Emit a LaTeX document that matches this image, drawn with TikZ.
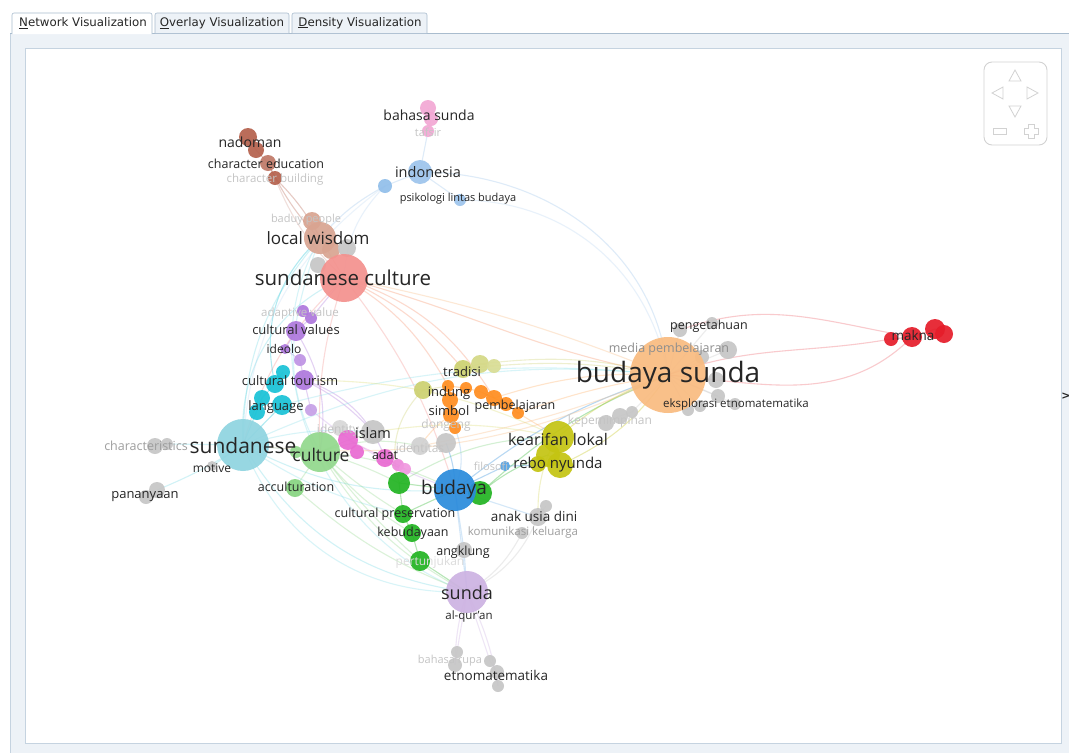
\documentclass[tikz,border=0pt]{standalone}
\usepackage{fontspec}
\setmainfont{Open Sans}
\newfontfamily\tabfont{DejaVu Sans}
\pgfdeclarelayer{back}
\pgfdeclarelayer{edges}
\pgfsetlayers{back,edges,main}
\definecolor{panelbg}{HTML}{EDF2F7}
\definecolor{panelln}{HTML}{C5D3E0}
\definecolor{tabln}{HTML}{A9BCCE}
\definecolor{txt}{HTML}{262626}
\definecolor{faded}{HTML}{C4C4C4}
\definecolor{midg}{HTML}{8E8E8E}
\definecolor{brownc}{HTML}{B5614D}
\definecolor{locwc}{HTML}{D9A491}
\definecolor{sundcc}{HTML}{F4918E}
\definecolor{pinkc}{HTML}{F3A8D4}
\definecolor{lbluec}{HTML}{9DC4EC}
\definecolor{purplec}{HTML}{AE78DD}
\definecolor{cyanc}{HTML}{18C2D6}
\definecolor{sundlc}{HTML}{8FD4E0}
\definecolor{lgreenc}{HTML}{92D88C}
\definecolor{greenc}{HTML}{22B422}
\definecolor{magc}{HTML}{E96AD2}
\definecolor{olivc}{HTML}{CDD170}
\definecolor{orangec}{HTML}{FF8D1F}
\definecolor{yellc}{HTML}{C4C412}
\definecolor{bluec}{HTML}{2A8BDC}
\definecolor{lpurc}{HTML}{CDB2E2}
\definecolor{bsc}{HTML}{F9BB80}
\definecolor{redc}{HTML}{E51D2A}
\definecolor{grayc}{HTML}{C6C6C6}
\definecolor{navc}{HTML}{D2D2D2}
\tikzset{
  nd/.style={circle, inner sep=0pt, draw=none, fill opacity=0.92},
  lb/.style={inner sep=0pt, text=txt},
  fl/.style={inner sep=0pt, text=faded},
  fs/.style={font=\fontsize{#1}{#1}\selectfont},
  ed/.style={draw=#1, draw opacity=0.33, line width=1.1pt},
  tabbox/.style={draw=tabln, fill=#1, rounded corners=2pt, line width=0.6pt},
}
\begin{document}
\begin{tikzpicture}[x=1pt,y=-1pt]
\useasboundingbox (0,0) rectangle (1069,753);
% ---------- window ----------
\begin{pgfonlayer}{back}
\fill[white] (0,0) rectangle (1069,753);
\fill[panelbg] (10,33) rectangle (1069,753);
\draw[panelln, line width=0.8pt] (10,33) -- (10,753);
\draw[tabln, line width=0.8pt] (10,33) -- (1069,33);
\fill[white] (25,48) rectangle (1061,743);
\draw[panelln, line width=0.8pt] (25,48) rectangle (1061,743);
\end{pgfonlayer}
\draw[tabbox=white] (12,34) -- (12,13) -- (152,13) -- (152,34);
\draw[tabbox=panelbg] (155,33) -- (155,13) -- (289,13) -- (289,33);
\draw[tabbox=panelbg] (292,33) -- (292,13) -- (427,13) -- (427,33);
\node[inner sep=0pt, text=txt, font=\tabfont\fontsize{11.8}{12}\selectfont] (tab1) at (83,23) {\underline{N}etwork Visualization};
\node[inner sep=0pt, text=txt, font=\tabfont\fontsize{11.8}{12}\selectfont] (tab2) at (222,23) {\underline{O}verlay Visualization};
\node[inner sep=0pt, text=txt, font=\tabfont\fontsize{11.8}{12}\selectfont] (tab3) at (360,23) {\underline{D}ensity Visualization};
\node[inner sep=0pt, text=txt, font=\tabfont\bfseries\fontsize{11}{11}\selectfont] (more) at (1066,396) {>};
% navigation widget
\draw[navc, line width=0.9pt, rounded corners=8pt] (984,62) rectangle (1047,145);
\draw[navc, line width=0.8pt] (1009,81) -- (1015,70) -- (1021,81) -- cycle;
\draw[navc, line width=0.8pt] (1003,87) -- (992,93) -- (1003,99) -- cycle;
\draw[navc, line width=0.8pt] (1027,87) -- (1038,93) -- (1027,99) -- cycle;
\draw[navc, line width=0.8pt] (1009,106) -- (1015,117) -- (1021,106) -- cycle;
\draw[navc, line width=0.8pt] (993,128) rectangle (1006,134);
\draw[navc, line width=0.8pt] (1028,124) -- (1034,124) -- (1034,128) -- (1038,128) -- (1038,134) -- (1034,134) -- (1034,138) -- (1028,138) -- (1028,134) -- (1024,134) -- (1024,128) -- (1028,128) -- cycle;
% ---------- nodes ----------
% brown cluster
\node[nd, fill=brownc, minimum size=18pt] (nad1) at (248,137) {};
\node[nd, fill=brownc, minimum size=16pt] (nad2) at (256,150) {};
\node[nd, fill=brownc!85!white, minimum size=16pt] (chared) at (268,163) {};
\node[nd, fill=brownc, minimum size=14pt] (charbld) at (275,178) {};
% local wisdom
\node[nd, fill=locwc, minimum size=18pt] (baduy) at (312,221) {};
\node[nd, fill=locwc, minimum size=32pt] (locw) at (320,238) {};
\node[nd, fill=locwc, minimum size=18pt] (locw2) at (331,250) {};
\node[nd, fill=grayc, minimum size=18pt] (gr1) at (347,248) {};
\node[nd, fill=grayc, minimum size=16pt] (gr2) at (318,265) {};
\node[nd, fill=sundcc, minimum size=48pt] (sundc) at (344,278) {};
% pink
\node[nd, fill=pinkc, minimum size=16pt] (bah1) at (428,108) {};
\node[nd, fill=pinkc, minimum size=14pt] (bah2) at (431,119) {};
\node[nd, fill=pinkc, minimum size=12pt] (tafsir) at (428,131) {};
% light blue
\node[nd, fill=lbluec, minimum size=24pt] (indo) at (420,172) {};
\node[nd, fill=lbluec!90!bluec, minimum size=14pt] (indo2) at (385,186) {};
\node[nd, fill=lbluec, minimum size=12pt] (psi) at (460,200) {};
% purple
\node[nd, fill=purplec, minimum size=12pt] (adapt) at (303,311) {};
\node[nd, fill=purplec, minimum size=12pt] (adapt2) at (311,318) {};
\node[nd, fill=purplec, minimum size=20pt] (culv) at (296,331) {};
\node[nd, fill=purplec, minimum size=10pt] (ideol) at (285,349) {};
\node[nd, fill=purplec!80!white, minimum size=12pt] (pur3) at (300,360) {};
\node[nd, fill=purplec, minimum size=20pt] (culto) at (304,380) {};
\node[nd, fill=purplec!70!white, minimum size=12pt] (pur5) at (311,410) {};
% cyan
\node[nd, fill=cyanc, minimum size=14pt] (cy1) at (283,372) {};
\node[nd, fill=cyanc, minimum size=18pt] (cy2) at (275,384) {};
\node[nd, fill=cyanc, minimum size=16pt] (cy3) at (262,398) {};
\node[nd, fill=cyanc, minimum size=20pt] (cy4) at (282,405) {};
\node[nd, fill=cyanc, minimum size=16pt] (cy5) at (257,412) {};
\node[nd, fill=sundlc, minimum size=52pt] (sund) at (243,445) {};
% gray left
\node[nd, fill=grayc, minimum size=16pt] (ch1) at (155,446) {};
\node[nd, fill=grayc, minimum size=12pt] (ch2) at (167,444) {};
\node[nd, fill=grayc, minimum size=10pt] (motive) at (212,466) {};
\node[nd, fill=grayc, minimum size=14pt] (pan1) at (146,497) {};
\node[nd, fill=grayc, minimum size=16pt] (pan2) at (157,490) {};
% culture
\node[nd, fill=lgreenc, minimum size=12pt] (cg0) at (296,452) {};
\node[nd, fill=lgreenc, minimum size=40pt] (cult) at (320,452) {};
\node[nd, fill=lgreenc!90!greenc, minimum size=18pt] (accu) at (295,488) {};
% magenta + gray
\node[nd, fill=grayc!70!white, minimum size=16pt] (id1) at (340,428) {};
\node[nd, fill=magc, minimum size=20pt] (mag1) at (348,440) {};
\node[nd, fill=magc, minimum size=14pt] (mag2) at (357,452) {};
\node[nd, fill=grayc, minimum size=24pt] (islam) at (373,432) {};
\node[nd, fill=magc, minimum size=18pt] (adat) at (385,458) {};
\node[nd, fill=magc!80!white, minimum size=12pt] (mag3) at (398,465) {};
\node[nd, fill=magc!70!white, minimum size=12pt] (mag4) at (405,469) {};
\node[nd, fill=grayc!80!white, minimum size=18pt] (id2) at (420,446) {};
\node[nd, fill=grayc, minimum size=20pt] (gr3) at (446,443) {};
% tradisi / orange
\node[nd, fill=olivc, minimum size=18pt] (tr1) at (463,369) {};
\node[nd, fill=olivc!85!white, minimum size=18pt] (tr2) at (480,364) {};
\node[nd, fill=olivc!75!white, minimum size=14pt] (tr3) at (494,366) {};
\node[nd, fill=olivc, minimum size=18pt] (oliv) at (423,390) {};
\node[nd, fill=orangec, minimum size=12pt] (o1) at (448,386) {};
\node[nd, fill=orangec, minimum size=12pt] (o2) at (466,388) {};
\node[nd, fill=orangec, minimum size=14pt] (o3) at (481,392) {};
\node[nd, fill=orangec, minimum size=16pt] (o4) at (494,398) {};
\node[nd, fill=orangec, minimum size=14pt] (o5) at (506,404) {};
\node[nd, fill=orangec, minimum size=12pt] (o6) at (518,413) {};
\node[nd, fill=orangec, minimum size=16pt] (o7) at (450,400) {};
\node[nd, fill=orangec, minimum size=16pt] (o8) at (451,415) {};
\node[nd, fill=orangec, minimum size=12pt] (o9) at (455,428) {};
% kearifan lokal
\node[nd, fill=yellc, minimum size=32pt] (kl1) at (558,437) {};
\node[nd, fill=yellc, minimum size=24pt] (kl2) at (548,455) {};
\node[nd, fill=yellc, minimum size=26pt] (kl3) at (560,465) {};
\node[nd, fill=yellc, minimum size=16pt] (kl4) at (538,464) {};
\node[nd, fill=bluec!80!white, minimum size=10pt] (filo) at (505,466) {};
\node[nd, fill=grayc, minimum size=16pt] (kep1) at (606,423) {};
\node[nd, fill=grayc, minimum size=16pt] (kep2) at (620,416) {};
\node[nd, fill=grayc, minimum size=12pt] (kep3) at (632,412) {};
% budaya
\node[nd, fill=greenc, minimum size=24pt] (g1) at (480,493) {};
\node[nd, fill=bluec, minimum size=42pt] (bud) at (455,490) {};
\node[nd, fill=greenc, minimum size=22pt] (g2) at (399,483) {};
\node[nd, fill=greenc, minimum size=18pt] (g3) at (403,514) {};
\node[nd, fill=greenc, minimum size=18pt] (g4) at (412,533) {};
\node[nd, fill=greenc, minimum size=20pt] (g5) at (420,561) {};
\node[nd, fill=grayc, minimum size=16pt] (angk) at (464,550) {};
\node[nd, fill=grayc, minimum size=12pt] (anak2) at (546,506) {};
\node[nd, fill=grayc, minimum size=18pt] (anak1) at (538,517) {};
\node[nd, fill=grayc, minimum size=12pt] (kom) at (522,533) {};
% sunda
\node[nd, fill=lpurc, minimum size=42pt] (sunda) at (467,592) {};
\node[nd, fill=grayc, minimum size=12pt] (bt1) at (457,652) {};
\node[nd, fill=grayc, minimum size=14pt] (bt2) at (455,665) {};
\node[nd, fill=grayc, minimum size=12pt] (bt3) at (490,661) {};
\node[nd, fill=grayc, minimum size=14pt] (bt4) at (497,672) {};
\node[nd, fill=grayc, minimum size=12pt] (bt5) at (498,686) {};
% budaya sunda
\node[nd, fill=grayc, minimum size=14pt] (pg1) at (680,330) {};
\node[nd, fill=grayc, minimum size=12pt] (pg2) at (712,323) {};
\node[nd, fill=grayc, minimum size=18pt] (pg3) at (728,350) {};
\node[nd, fill=grayc, minimum size=14pt] (pg4) at (702,357) {};
\node[nd, fill=grayc, minimum size=16pt] (pg5) at (716,380) {};
\node[nd, fill=grayc, minimum size=14pt] (pg6) at (718,396) {};
\node[nd, fill=grayc, minimum size=12pt] (pg7) at (700,406) {};
\node[nd, fill=grayc, minimum size=12pt] (pg8) at (688,410) {};
\node[nd, fill=grayc, minimum size=12pt] (pg9) at (735,404) {};
\node[nd, fill=bsc, minimum size=76pt] (bs) at (668,375) {};
% makna
\node[nd, fill=redc, minimum size=14pt] (mk4) at (891,339) {};
\node[nd, fill=redc, minimum size=20pt] (mk1) at (912,337) {};
\node[nd, fill=redc, minimum size=20pt] (mk2) at (935,329) {};
\node[nd, fill=redc, minimum size=18pt] (mk3) at (944,334) {};
% ---------- edges ----------
\begin{pgfonlayer}{edges}
% brown
\draw[ed=brownc] (nad1.center) -- (nad2.center) -- (chared.center) -- (charbld.center);
\draw[ed=brownc] (charbld.center) to[bend left=8] (locw.center);
\draw[ed=brownc] (chared.center) to[bend right=10] (locw2.center);
\draw[ed=brownc!60!white] (charbld.center) to[bend right=12] (sundc.center);
\draw[ed=locwc] (baduy.center) -- (locw.center) -- (sundc.center);
% blue / pink
\draw[ed=lbluec] (locw.center) to[bend left=10] (indo2.center);
\draw[ed=lbluec] (indo2.center) -- (indo.center) -- (psi.center);
\draw[ed=lbluec] (indo.center) -- (tafsir.center);
\draw[ed=pinkc] (tafsir.center) -- (bah2.center) -- (bah1.center);
\draw[ed=lbluec] (indo.center) to[out=0,in=95] (bs.center);
\draw[ed=lbluec!70!white] (psi.center) to[out=0,in=100] (bs.center);
\draw[ed=lbluec!70!white] (indo2.center) to[bend right=20] (sundc.center);
\draw[ed=lbluec!60!white] (indo2.center) to[bend right=25] (sund.center);
% sundanese culture fan
\draw[ed=sundcc!70!orangec] (sundc.center) to[bend left=15] (o1.center);
\draw[ed=sundcc!70!orangec] (sundc.center) to[bend left=20] (o4.center);
\draw[ed=sundcc!70!orangec] (sundc.center) to[bend left=12] (tr1.center);
\draw[ed=sundcc!60!orangec] (sundc.center) to[out=-15,in=170] (bs.center);
\draw[ed=sundcc] (sundc.center) to[bend left=10] (bud.center);
\draw[ed=sundcc] (sundc.center) to[bend right=10] (cult.center);
\draw[ed=sundcc] (sundc.center) to[bend right=15] (sund.center);
% purple
\draw[ed=purplec] (sundc.center) -- (adapt2.center) -- (culv.center) -- (ideol.center) -- (pur3.center) -- (culto.center) -- (pur5.center);
\draw[ed=purplec] (culto.center) to[bend left=10] (islam.center);
\draw[ed=purplec] (culv.center) to[bend left=20] (cult.center);
\draw[ed=purplec] (culto.center) to[bend left=25] (adat.center);
\draw[ed=purplec!70!white] (pur5.center) to[bend right=10] (bud.center);
% cyan / sundanese
\draw[ed=cyanc] (cy1.center) -- (cy2.center) -- (cy3.center) -- (sund.center);
\draw[ed=cyanc] (cy4.center) -- (sund.center);
\draw[ed=cyanc] (cy2.center) to[bend left=30] (locw.center);
\draw[ed=cyanc!60!white] (sund.center) to[bend left=20] (locw.center);
\draw[ed=cyanc!60!white] (sund.center) to[bend left=35] (sundc.center);
\draw[ed=cyanc!60!white] (sund.center) -- (ch2.center) -- (ch1.center);
\draw[ed=cyanc!60!white] (sund.center) -- (motive.center);
\draw[ed=cyanc!60!white] (sund.center) to[bend left=5] (pan2.center);
\draw[ed=cyanc!60!white] (sund.center) -- (cult.center);
\draw[ed=cyanc!60!white] (sund.center) to[bend right=15] (bud.center);
\draw[ed=cyanc!60!white] (sund.center) to[bend right=25] (sunda.center);
\draw[ed=cyanc!50!white] (sund.center) to[bend right=35] (sunda.center);
\draw[ed=cyanc!50!white] (sund.center) to[bend right=10] (g3.center);
\draw[ed=cyanc!50!white] (sund.center) to[bend left=10] (islam.center);
\draw[ed=cyanc!50!white] (sund.center) to[bend left=15] (bs.center);
\draw[ed=cyanc!50!white] (cy4.center) to[bend left=10] (bs.center);
\draw[ed=cyanc!50!white] (locw.center) to[out=240,in=160] (sunda.center);
\draw[ed=cyanc!50!white] (locw.center) to[out=250,in=120] (cult.center);
% green
\draw[ed=lgreenc] (cult.center) -- (mag1.center) -- (islam.center);
\draw[ed=magc] (mag1.center) -- (adat.center) -- (mag3.center) -- (mag4.center);
\draw[ed=lgreenc] (cult.center) -- (accu.center);
\draw[ed=lgreenc] (cult.center) to[bend left=5] (g2.center);
\draw[ed=lgreenc] (cult.center) to[bend right=5] (g3.center);
\draw[ed=lgreenc] (cult.center) to[bend right=10] (g4.center);
\draw[ed=lgreenc] (cult.center) to[bend left=10] (bud.center);
\draw[ed=lgreenc] (cult.center) to[bend right=15] (sunda.center);
\draw[ed=lgreenc] (cult.center) to[bend right=5] (g5.center);
\draw[ed=lgreenc] (cult.center) to[bend left=15] (id2.center);
\draw[ed=lgreenc] (accu.center) to[bend right=10] (sunda.center);
\draw[ed=greenc] (g2.center) -- (g3.center) -- (g4.center) -- (g5.center);
\draw[ed=greenc] (g2.center) -- (bud.center) -- (g1.center);
\draw[ed=greenc] (g5.center) -- (sunda.center);
\draw[ed=greenc] (g3.center) -- (bud.center);
\draw[ed=greenc] (g1.center) to[bend left=10] (kl2.center);
\draw[ed=greenc] (g1.center) to[bend left=10] (bs.center);
\draw[ed=greenc!60!white] (g2.center) to[bend left=15] (kl1.center);
% budaya / blue
\draw[ed=bluec] (bud.center) -- (filo.center) -- (kl3.center);
\draw[ed=bluec] (bud.center) to[bend left=10] (bs.center);
\draw[ed=bluec] (bud.center) to[bend right=10] (gr3.center);
\draw[ed=bluec!60!white] (bud.center) -- (angk.center) -- (sunda.center);
\draw[ed=bluec!60!white] (bud.center) -- (sunda.center);
\draw[ed=bluec!60!white] (bud.center) -- (anak1.center);
\draw[ed=bluec!60!white] (bud.center) to[bend right=20] (o9.center);
\draw[ed=grayc] (anak1.center) -- (anak2.center);
\draw[ed=grayc] (kom.center) to[bend left=15] (sunda.center);
\draw[ed=grayc] (anak1.center) to[bend left=20] (sunda.center);
\draw[ed=lpurc] (sunda.center) -- (bt1.center) -- (bt2.center);
\draw[ed=lpurc] (sunda.center) -- (bt3.center) -- (bt4.center) -- (bt5.center);
\draw[ed=lpurc] (sunda.center) to[bend left=8] (bt5.center);
\draw[ed=lpurc] (sunda.center) to[bend right=8] (bt2.center);
% orange / tradisi
\draw[ed=orangec] (o1.center) -- (o2.center) -- (o3.center) -- (o4.center) -- (o5.center) -- (o6.center);
\draw[ed=orangec] (o1.center) -- (o7.center) -- (o8.center) -- (o9.center);
\draw[ed=olivc] (tr1.center) -- (tr2.center) -- (tr3.center);
\draw[ed=olivc] (oliv.center) -- (o1.center);
\draw[ed=olivc] (tr2.center) to[bend left=10] (bs.center);
\draw[ed=olivc] (tr1.center) to[bend left=8] (bs.center);
\draw[ed=orangec!70!white] (o4.center) to[bend left=10] (bs.center);
\draw[ed=orangec!70!white] (o6.center) to[bend left=5] (bs.center);
\draw[ed=orangec!70!white] (o6.center) -- (kl1.center);
\draw[ed=orangec!70!white] (o8.center) to[bend right=10] (id2.center);
\draw[ed=olivc] (oliv.center) to[bend right=30] (g2.center);
% kearifan lokal
\draw[ed=yellc] (kl1.center) -- (kl2.center) -- (kl3.center) -- (kl4.center);
\draw[ed=yellc] (kl1.center) to[bend left=10] (bs.center);
\draw[ed=yellc] (kl3.center) to[bend right=15] (bs.center);
\draw[ed=yellc!70!white] (kl2.center) to[bend right=10] (anak1.center);
\draw[ed=grayc] (kep1.center) -- (kep2.center) -- (kep3.center) -- (bs.center);
\draw[ed=yellc!60!white] (islam.center) to[bend left=10] (kl1.center);
\draw[ed=yellc!60!white] (culto.center) to[bend left=12] (kl1.center);
% budaya sunda
\draw[ed=grayc] (bs.center) -- (pg1.center);
\draw[ed=grayc] (bs.center) -- (pg2.center);
\draw[ed=grayc] (bs.center) -- (pg3.center);
\draw[ed=grayc] (bs.center) -- (pg4.center);
\draw[ed=grayc] (bs.center) -- (pg5.center);
\draw[ed=grayc] (bs.center) -- (pg6.center);
\draw[ed=grayc] (bs.center) -- (pg7.center);
\draw[ed=grayc] (bs.center) -- (pg8.center);
\draw[ed=grayc] (bs.center) -- (pg9.center);
\draw[ed=redc!70!white] (bs.center) to[out=20,in=190] (mk4.center);
\draw[ed=redc!70!white] (pg1.center) to[out=20,in=170] (mk1.center);
\draw[ed=redc!70!white] (bs.center) to[out=-5,in=225] (mk1.center);
\draw[ed=redc] (mk4.center) -- (mk1.center) -- (mk2.center) -- (mk3.center);
\draw[ed=bsc] (bs.center) to[bend left=15] (sund.center);
\draw[ed=bsc] (bs.center) to[bend left=5] (id2.center);
\draw[ed=bsc] (bs.center) to[bend right=5] (sundc.center);
\end{pgfonlayer}
% ---------- labels ----------
\node[lb, fs=14] (Lnad) at (250,142) {nadoman};
\node[lb, fs=12.5] (Lched) at (266,164) {character education};
\node[fl, fs=11.5] (Lchbd) at (275,180) {character building};
\node[lb, fs=14] (Lbah) at (429,115) {bahasa sunda};
\node[fl, fs=11] (Ltaf) at (428,132) {tafsir};
\node[lb, fs=14.5] (Lindo) at (428,172) {indonesia};
\node[lb, fs=11] (Lpsi) at (458,199) {psikologi lintas budaya};
\node[fl, fs=11] (Lbad) at (306,220) {baduy people};
\node[lb, fs=17] (Llocw) at (318,238) {local wisdom};
\node[lb, fs=20.5] (Lsundc) at (343,278) {sundanese culture};
\node[fl, fs=11.5] (Ladapt) at (300,314) {adaptive value};
\node[lb, fs=13] (Lculv) at (296,330) {cultural values};
\node[lb, fs=12] (Lideo) at (284,349) {ideolo};
\node[lb, fs=13] (Lculto) at (290,381) {cultural tourism};
\node[lb, fs=13] (Llang) at (276,407) {language};
\node[inner sep=0pt, text=grayc!80!black, fs=12.5] (Lchar) at (146,446) {characteristics};
\node[lb, fs=21] (Lsund) at (243,446) {sundanese};
\node[lb, fs=12] (Lmot) at (212,468) {motive};
\node[lb, fs=13] (Lpan) at (145,497) {pananyaan};
\node[fl, fs=12] (Lid1) at (338,430) {identity};
\node[lb, fs=17.5] (Lcult) at (321,455) {culture};
\node[lb, fs=12.5] (Laccu) at (296,487) {acculturation};
\node[lb, fs=14.5] (Lislam) at (373,433) {islam};
\node[lb, fs=12.5] (Ladat) at (385,455) {adat};
\node[fl, fs=12] (Lid2) at (420,448) {identitas};
\node[lb, fs=13] (Ltrad) at (462,372) {tradisi};
\node[lb, fs=13] (Lind) at (449,393) {indung};
\node[lb, fs=13] (Lsimb) at (449,411) {simbol};
\node[lb, fs=12.5] (Lpemb) at (515,406) {pembelajaran};
\node[fl, fs=12] (Ldong) at (446,425) {dongeng};
\node[fl, fs=12] (Lkep) at (610,421) {kepemimpinan};
\node[lb, fs=16] (Lkl) at (558,439) {kearifan lokal};
\node[fl, fs=11] (Lfilo) at (491,466) {filosofi};
\node[lb, fs=15] (Lrebo) at (558,465) {rebo nyunda};
\node[lb, fs=19] (Lbud) at (454,490) {budaya};
\node[lb, fs=12.5] (Lcp) at (395,514) {cultural preservation};
\node[lb, fs=13.5] (Lanak) at (534,516) {anak usia dini};
\node[lb, fs=12.5] (Lkeb) at (413,533) {kebudayaan};
\node[inner sep=0pt, text=grayc!80!black, fs=11.5] (Lkom) at (523,533) {komunikasi keluarga};
\node[lb, fs=12.5] (Langk) at (463,552) {angklung};
\node[inner sep=0pt, text=faded!60!white, fs=12] (Lpert) at (430,562) {pertunjukan};
\node[lb, fs=18] (Lsunda) at (467,593) {sunda};
\node[lb, fs=11.5] (Lalq) at (469,617) {al-qur'an};
\node[fl, fs=11] (Lbr) at (450,661) {bahasa rupa};
\node[lb, fs=13.5] (Letno) at (496,675) {etnomatematika};
\node[lb, fs=12.5] (Lpeng) at (709,326) {pengetahuan};
\node[inner sep=0pt, text=midg, fs=12.5] (Lmedia) at (669,349) {media pembelajaran};
\node[lb, fs=28] (Lbs) at (668,375) {budaya sunda};
\node[lb, fs=11.5] (Leks) at (736,405) {eksplorasi etnomatematika};
\node[lb, fs=13.5] (Lmakna) at (913,335) {makna};
\end{tikzpicture}
\end{document}
